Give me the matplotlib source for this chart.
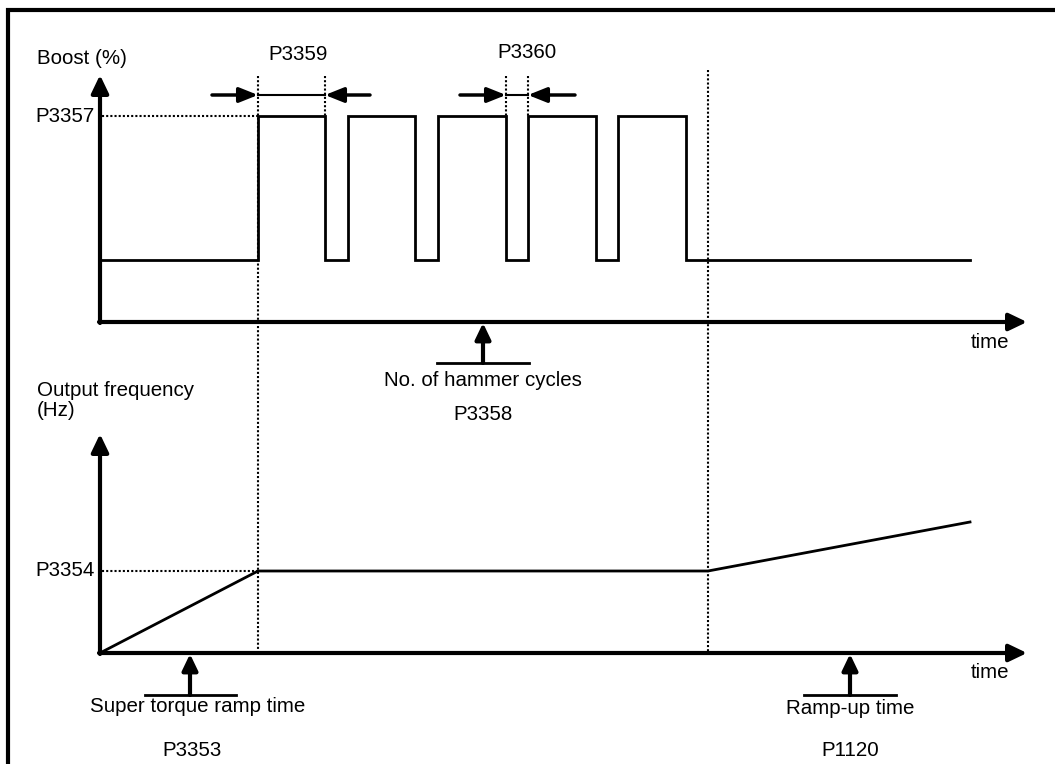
import matplotlib
matplotlib.use("Agg")
import matplotlib.pyplot as plt

plt.rcParams['font.family'] = ['Liberation Sans', 'DejaVu Sans']

# Diagram coordinates (x to the right, y downward)
W, H = 1055, 764

# Upper panel: boost pulse train
boost_axis_x = 100
boost_base_y = 322
boost_high_y = 116
boost_low_y = 260
pulse_on = [258, 348, 438, 528, 618]
pulse_off = [325, 415, 506, 596, 686]
boost_end_x = 970

# Lower panel: output frequency profile
freq_axis_y = 653
freq_x = [100, 258, 708, 970]
freq_y = [653, 571, 571, 522]
p3354_y = 571

# Marker times
t_start = 258
t_end = 708

fig = plt.figure(figsize=(W / 100, H / 100), dpi=100)
ax = fig.add_axes([0, 0, 1, 1])
ax.set_xlim(0, W)
ax.set_ylim(H, 0)
ax.axis('off')

FS = 14.8
K = 'black'


def arrow(x0, y0, x1, y1, lw=3, ms=14.5, hw=0.36):
    ax.annotate('', xy=(x1, y1), xytext=(x0, y0),
                arrowprops=dict(arrowstyle=f'-|>,head_length=0.75,head_width={hw}',
                                color=K, lw=lw, mutation_scale=ms,
                                shrinkA=0, shrinkB=0))


def dotted(xs, ys):
    ax.plot(xs, ys, color=K, lw=1.5, ls=(0, (1, 1)))


# frame
ax.plot([8, 8, W + 5], [H + 5, 10, 10], color=K, lw=3, solid_joinstyle='miter')

# ---- upper panel ----
arrow(boost_axis_x, boost_base_y + 1, boost_axis_x, 75)
arrow(boost_axis_x - 1, boost_base_y, 1027, boost_base_y)
ax.text(37, 58, 'Boost (%)', fontsize=FS, va='center', ha='left')
ax.text(990, 342, 'time', fontsize=FS, va='center', ha='center')

xs = [boost_axis_x + 2, pulse_on[0]]
ys = [boost_low_y, boost_low_y]
for on, off in zip(pulse_on, pulse_off):
    xs += [on, on, off, off]
    ys += [boost_low_y, boost_high_y, boost_high_y, boost_low_y]
xs.append(boost_end_x)
ys.append(boost_low_y)
ax.plot(xs, ys, color=K, lw=2, solid_joinstyle='miter')

dotted([boost_axis_x + 2, pulse_on[0]], [boost_high_y, boost_high_y])
ax.text(95, boost_high_y, 'P3357', fontsize=FS, va='center', ha='right')

# pulse-width dimension (P3359)
dotted([pulse_off[0], pulse_off[0]], [76, boost_high_y])
ax.plot([pulse_on[0], pulse_off[0]], [95, 95], color=K, lw=1.5)
arrow(212, 95, pulse_on[0], 95, lw=2.5, ms=15, hw=0.3)
arrow(370, 95, pulse_off[0], 95, lw=2.5, ms=15, hw=0.3)
ax.text(298, 55, 'P3359', fontsize=FS, va='center', ha='center')

# pause dimension (P3360)
dotted([pulse_off[2], pulse_off[2]], [76, boost_high_y])
dotted([pulse_on[3], pulse_on[3]], [76, boost_high_y])
ax.plot([pulse_off[2], pulse_on[3]], [95, 95], color=K, lw=1.5)
arrow(460, 95, pulse_off[2], 95, lw=2.5, ms=15, hw=0.3)
arrow(575, 95, pulse_on[3], 95, lw=2.5, ms=15, hw=0.3)
ax.text(527, 52, 'P3360', fontsize=FS, va='center', ha='center')

# hammer cycles pointer
arrow(483, 363, 483, boost_base_y + 1, ms=13)
ax.plot([437, 529], [363, 363], color=K, lw=2)
ax.text(483, 381, 'No. of hammer cycles', fontsize=FS, va='center', ha='center')
ax.text(483, 414, 'P3358', fontsize=FS, va='center', ha='center')

# long vertical markers
dotted([t_start, t_start], [76, freq_axis_y])
dotted([t_end, t_end], [70, freq_axis_y])

# ---- lower panel ----
arrow(boost_axis_x, freq_axis_y + 1, boost_axis_x, 434)
arrow(boost_axis_x - 1, freq_axis_y, 1027, freq_axis_y)
ax.text(37, 391, 'Output frequency', fontsize=FS, va='center', ha='left')
ax.text(37, 410, '(Hz)', fontsize=FS, va='center', ha='left')
ax.text(990, 673, 'time', fontsize=FS, va='center', ha='center')

ax.plot(freq_x, freq_y, color=K, lw=2, solid_joinstyle='miter')
dotted([boost_axis_x + 2, freq_x[1]], [p3354_y, p3354_y])
ax.text(95, p3354_y, 'P3354', fontsize=FS, va='center', ha='right')

# ramp pointers
arrow(190, 695, 190, freq_axis_y + 1, ms=13)
ax.plot([145, 236], [695, 695], color=K, lw=2)
ax.text(198, 707, 'Super torque ramp time', fontsize=FS, va='center', ha='center')
ax.text(192, 751, 'P3353', fontsize=FS, va='center', ha='center')

arrow(850, 695, 850, freq_axis_y + 1, ms=13)
ax.plot([804, 896], [695, 695], color=K, lw=2)
ax.text(850, 709, 'Ramp-up time', fontsize=FS, va='center', ha='center')
ax.text(850, 751, 'P1120', fontsize=FS, va='center', ha='center')

fig.savefig('out.png', dpi=100, facecolor='white')
